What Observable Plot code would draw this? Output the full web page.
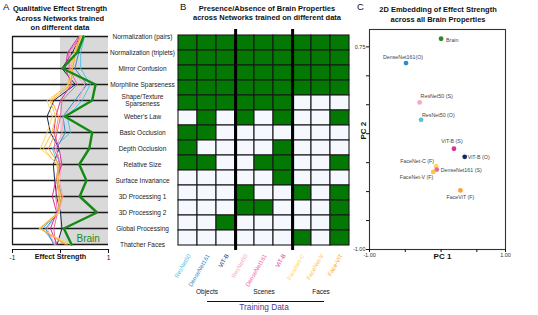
<!DOCTYPE html>
<html><head><meta charset="utf-8">
<script src="https://cdn.jsdelivr.net/npm/d3@7"></script>
<script src="https://cdn.jsdelivr.net/npm/@observablehq/plot@0.6"></script>
<style>
body{margin:0;background:#fff;}
#root{position:relative;width:538px;height:315px;overflow:hidden;font-family:"Liberation Sans",Arial,sans-serif;color:#111;}
.abs{position:absolute;}
.title{font-weight:bold;font-size:7.5px;line-height:9.6px;text-align:center;white-space:nowrap;}
.letter{font-size:9.5px;}
</style></head><body><div id="root"></div>
<script>
// ---------- DATA ----------
const properties = ["Normalization (pairs)","Normalization (triplets)","Mirror Confusion","Morphline Sparseness","Shape/Texture\nSparseness","Weber's Law","Basic Occlusion","Depth Occlusion","Relative Size","Surface Invariance","3D Processing 1","3D Processing 2","Global Processing","Thatcher Faces"];
const networks = ["ResNet50 (O)","DenseNet161 (O)","ViT-B (O)","ResNet50 (S)","DenseNet161 (S)","ViT-B (S)","FaceNet-C (F)","FaceNet-V (F)","FaceViT (F)"];
const networkLabels = ["ResNet50","DenseNet161","ViT-B","ResNet50","DenseNet161","ViT-B","FaceNet-C","FaceNet-V","Face-ViT"];
const networkColors = ["#55c3dc","#2e8ccc","#17275c","#f7a8c4","#ee64a8","#d6339c","#ffd666","#ffc24a","#ff9f35"];
const groups = ["Objects","Scenes","Faces"];
const brainEffect = [0.48,0.35,0.04,0.73,0.66,0.09,0.66,0.60,0.39,0.54,0.40,0.76,0.07,0.23];
const effectResNet50O    = [0.50,0.42,0.42,0.62,0.45,0.14,0.21,-0.17,-0.05,-0.08,-0.02,-0.03,-0.38,-0.10];
const effectDenseNet161O = [0.48,0.38,0.30,0.55,0.30,0.05,0.10,-0.08,-0.02,-0.05,0.02,-0.05,-0.31,-0.14];
const effectViTBO        = [0.40,0.25,0.03,0.31,-0.14,-0.28,-0.21,-0.03,-0.15,-0.12,-0.08,0.00,0.03,-0.07];
const effectResNet50S    = [0.45,0.20,0.20,0.50,0.38,0.06,0.03,-0.10,0.02,-0.02,0.05,-0.03,-0.28,-0.12];
const effectDenseNet161S = [0.42,0.17,0.18,0.35,0.03,0.00,-0.07,-0.14,0.00,-0.05,-0.10,-0.06,-0.14,-0.10];
const effectViTBS        = [0.38,0.15,0.10,0.23,0.00,-0.10,-0.14,-0.03,0.03,-0.10,-0.17,-0.08,-0.21,-0.07];
const effectFaceNetC     = [0.44,0.30,0.25,0.18,-0.28,-0.17,-0.28,-0.42,-0.05,-0.06,0.00,-0.04,-0.45,0.21];
const effectFaceNetV     = [0.42,0.28,0.22,0.15,-0.22,-0.10,-0.18,-0.35,-0.08,-0.03,-0.05,-0.02,-0.42,0.14];
const effectFaceViT      = [0.40,0.32,0.25,0.22,-0.18,-0.04,-0.10,-0.25,-0.03,-0.10,0.04,-0.06,-0.42,0.10];
const presence = [
  [1,1,1,1,1,1,1,1,1],
  [1,1,1,1,1,1,1,1,1],
  [1,1,1,1,1,1,1,1,1],
  [1,1,1,1,1,1,1,1,1],
  [1,1,1,1,1,1,0,0,0],
  [0,1,0,1,0,1,0,0,1],
  [1,1,0,0,0,0,0,0,0],
  [1,0,0,0,0,1,0,0,0],
  [1,1,0,0,1,1,0,0,1],
  [0,0,0,0,0,1,0,0,0],
  [0,0,0,1,0,0,1,0,1],
  [0,0,0,1,1,0,0,0,1],
  [0,0,1,0,0,0,0,0,1],
  [0,0,0,0,0,0,1,0,1]
];
const embedNames = ["Brain","DenseNet161(O)","ResNet50 (S)","ResNet50 (O)","ViT-B (S)","ViT-B (O)","FaceNet-C (F)","DenseNet161 (S)","FaceNet-V (F)","FaceViT (F)"];
const pc1 = [0.00,-0.49,-0.30,-0.28,0.18,0.33,-0.07,-0.06,-0.11,0.27];
const pc2 = [0.82,0.61,0.27,0.12,-0.13,-0.20,-0.28,-0.31,-0.33,-0.49];
const embedColors = ["#2a8a2a","#2e8ccc","#f7a8c4","#55c3dc","#d6339c","#17275c","#ffd666","#ee64a8","#ffc24a","#ff9f35"];

// ---------- styles (kept separate) ----------
const FONT = "Liberation Sans, Arial, sans-serif";
const GREEN = "#037803", WHITE = "#f5f9ff";
const labelPlacement = {
  "Brain": {dx:5, dy:2, anchor:"start"},
  "DenseNet161(O)": {dx:-3, dy:-6, anchor:"middle"},
  "ResNet50 (S)": {dx:1, dy:-6, anchor:"start"},
  "ResNet50 (O)": {dx:1, dy:-5, anchor:"start"},
  "ViT-B (S)": {dx:-2, dy:-7, anchor:"middle"},
  "ViT-B (O)": {dx:3, dy:0, anchor:"start"},
  "FaceNet-C (F)": {dx:-2, dy:-5, anchor:"end"},
  "DenseNet161 (S)": {dx:4, dy:1, anchor:"start"},
  "FaceNet-V (F)": {dx:0, dy:5, anchor:"end"},
  "FaceViT (F)": {dx:0, dy:7, anchor:"middle"}
};

const root = document.getElementById("root");
function place(el, left, top){ el.style.position="absolute"; el.style.left=left+"px"; el.style.top=top+"px"; root.appendChild(el); }
function html(str, left, top, cls, extra){ const d=document.createElement("div"); d.className=cls||""; d.innerHTML=str; if(extra) Object.assign(d.style, extra); place(d,left,top); return d; }

// ---------- Panel A ----------
const effectSeries = [effectResNet50O,effectDenseNet161O,effectViTBO,effectResNet50S,effectDenseNet161S,effectViTBS,effectFaceNetC,effectFaceNetV,effectFaceViT];
const lineData = effectSeries.flatMap((s,k)=> s.map((v,i)=>({net:networks[k], i, v})));
const brainData = brainEffect.map((v,i)=>({i, v}));
const idx = d3.range(properties.length);
const last = properties.length-1;

const plotA = Plot.plot({
  width:180, height:270, marginLeft:12, marginRight:72, marginTop:36, marginBottom:21,
  style:{background:"transparent", overflow:"visible", fontFamily:FONT},
  x:{domain:[-1,1]},
  y:{domain:[0,last], range:[36,244]},
  color:{domain:networks, range:networkColors},
  marks:[
    Plot.rect([0], {x1:0, x2:1, y1:0, y2:last, fill:"#d9d9d9"}),
    Plot.ruleY(idx, {x1:-1, x2:1, stroke:"#1a1a1a", strokeWidth:1.3}),
    Plot.ruleX([-1], {y1:0, y2:last, stroke:"#1a1a1a", strokeWidth:1.3}),
    Plot.frame({anchor:"bottom", stroke:"#1a1a1a", strokeWidth:1.2}),
    Plot.line(lineData, {x:"v", y:"i", z:"net", stroke:"net", strokeWidth:1}),
    Plot.line(brainData, {x:"v", y:"i", stroke:"#148a14", strokeWidth:2.4}),
    Plot.text(brainData, Plot.selectLast({x:"v", y:"i", text:()=>"Brain", textAnchor:"start", dx:5, dy:-6, fill:"#1a8c1a", fontSize:10})),
    Plot.axisX({ticks:[-1,0,1], tickFormat:d=> d===0 ? "" : String(d), tickSize:4, tickPadding:2, fontSize:6.5, label:null}),
    Plot.text(["Effect Strength"], {frameAnchor:"bottom", dy:9, fontWeight:"bold", fontSize:7.2, text:d=>d}),
    Plot.axisY({anchor:"right", ticks:idx, tickFormat:i=>properties[i], tickSize:0, tickPadding:3, textAnchor:"middle", dx:31, fontSize:6.5, label:null, fill:"#222"})
  ]
});
place(plotA, 0, 0);

// ---------- Panel B ----------
const cells = presence.flatMap((row,r)=> row.map((v,c)=>({prop:properties[r], net:networks[c], v})));
const netInfo = networks.map((n,k)=>({net:n, label:networkLabels[k], color:networkColors[k]}));
const groupInfo = groups.map((g,k)=>({g, net:networks[k*3+1]}));
const bw = 173/networks.length;
const plotB = Plot.plot({
  width:200, height:315, marginLeft:17, marginRight:10, marginTop:29, marginBottom:65,
  style:{background:"transparent", overflow:"visible", fontFamily:FONT},
  x:{domain:networks, padding:0, axis:null},
  y:{domain:properties, padding:0, axis:null},
  marks:[
    Plot.cell(cells, {x:"net", y:"prop", fill:d=> d.v ? GREEN : WHITE, stroke:"#1a1a1a", strokeWidth:1.1}),
    Plot.ruleX([networks[2], networks[5]], {dx:bw/2, stroke:"#000", strokeWidth:3}),
    Plot.text(netInfo, {x:"net", text:"label", fill:"color", frameAnchor:"bottom", rotate:-60, textAnchor:"end", dx:3, dy:5, fontSize:6}),
    Plot.text(groupInfo, {x:"net", text:"g", frameAnchor:"bottom", dy:43, fontSize:6.5, fill:"#111"})
  ]
});
place(plotB, 160, 0);

// ---------- Panel C ----------
const pts = embedNames.map((n,k)=>({name:n, x:pc1[k], y:pc2[k], color:embedColors[k]}));
const plotC = Plot.plot({
  width:193, height:270, marginLeft:24, marginRight:33, marginTop:29, marginBottom:21,
  style:{background:"transparent", overflow:"visible", fontFamily:FONT},
  x:{domain:[-1,0.9]},
  y:{domain:[-1,0.9]},
  marks:[
    Plot.frame({stroke:"#333", strokeWidth:1.1}),
    Plot.axisX({ticks:[-1,-0.5,0,0.5,0.9], tickFormat:d=> d===-1 ? "-1.00" : d===0.9 ? "1.00" : "", tickSize:3, tickPadding:1, fontSize:5.5, label:null, fill:"#333"}),
    Plot.axisY({ticks:d3.range(-1,0.76,0.25), tickFormat:d=> d===-1 ? "-1.00" : d===0.75 ? "0.75" : "", tickSize:3, tickPadding:1, fontSize:5.5, label:null, fill:"#333"}),
    Plot.text(["PC 1"], {frameAnchor:"bottom", dx:5, dy:9, fontWeight:"bold", fontSize:8, text:d=>d}),
    Plot.text(["PC 2"], {frameAnchor:"left", dx:-6, rotate:-90, fontWeight:"bold", fontSize:8, text:d=>d}),
    Plot.dot(pts, {x:"x", y:"y", fill:"color", r:2.4}),
    ...pts.map(p=>{ const L=labelPlacement[p.name]; return Plot.text([p], {x:"x", y:"y", text:"name", dx:L.dx, dy:L.dy, textAnchor:L.anchor, fontSize:5.3, fill:"#444"}); })
  ]
});
place(plotC, 345, 0);

// ---------- Titles & annotations ----------
html("A", 3, 1, "letter");
html("B", 180, 1, "letter");
html("C", 357, 1, "letter");
html("Qualitative Effect Strength<br>Across Networks trained<br>on different data", 0, 4, "title", {width:"120px"});
html("Presence/Absence of Brain Properties<br>across Networks trained on different data", 187, 3.5, "title", {width:"160px"});
html("2D Embedding of Effect Strength<br>across all Brain Properties", 378, 5, "title", {width:"120px"});
const rule = document.createElement("div");
Object.assign(rule.style, {width:"117px", height:"0", borderTop:"1.2px solid #111"});
place(rule, 207, 301);
html("Training Data", 214, 302, "", {width:"100px", textAlign:"center", fontSize:"8.3px", color:"#4b3d96"});
</script></body></html>
